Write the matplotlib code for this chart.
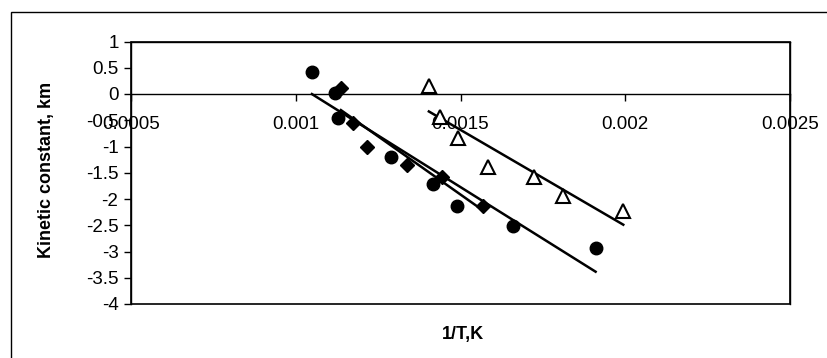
import numpy as np
import matplotlib
matplotlib.use("Agg")
import matplotlib.pyplot as plt
from matplotlib.patches import Rectangle

plt.rcParams['font.family'] = ['Liberation Sans', 'DejaVu Sans']

# series
circle_x = [0.001049, 0.001118, 0.001128, 0.001289, 0.001416, 0.001489, 0.00166, 0.00191]
circle_y = [0.42, 0.02, -0.45, -1.20, -1.71, -2.13, -2.51, -2.93]

diamond_x = [0.001137, 0.001173, 0.001216, 0.001337, 0.001443, 0.001568]
diamond_y = [0.12, -0.55, -1.01, -1.35, -1.58, -2.13]

triangle_x = [0.001404, 0.001438, 0.001492, 0.001584, 0.001724, 0.001812, 0.001994]
triangle_y = [0.15, -0.44, -0.83, -1.39, -1.58, -1.94, -2.22]

x_ticks = [0.0005, 0.001, 0.0015, 0.002, 0.0025]
x_labels = ['0.0005', '0.001', '0.0015', '0.002', '0.0025']
y_ticks = [-4, -3.5, -3, -2.5, -2, -1.5, -1, -0.5, 0, 0.5, 1]
y_labels = ['-4', '-3.5', '-3', '-2.5', '-2', '-1.5', '-1', '-0.5', '0', '0.5', '1']

fig = plt.figure(figsize=(8.28, 3.58), dpi=100)
# chart area border (left/top visible in the scan)
fig.patches.append(Rectangle((11 / 828, -0.1), 1.2, 1 - 12 / 358 + 0.1,
                             transform=fig.transFigure, fill=False,
                             edgecolor='black', linewidth=1.0))

ax = fig.add_axes([131 / 828, 1 - 304 / 358, (790 - 131) / 828, (304 - 41.5) / 358])

def trend(xs, ys):
    # excel style linear trendline over the series range
    k, b = np.polyfit(xs, ys, 1)
    xx = np.array([min(xs), max(xs)])
    return xx, k * xx + b

for xs, ys in [(circle_x, circle_y), (diamond_x, diamond_y), (triangle_x, triangle_y)]:
    tx, ty = trend(xs, ys)
    ax.plot(tx, ty, color='black', lw=1.8, zorder=2)

ax.plot(circle_x, circle_y, 'o', color='black', ms=9, zorder=3)
ax.plot(diamond_x, diamond_y, 'D', color='black', ms=7.5, zorder=3)
ax.plot(triangle_x, triangle_y, '^', mfc='white', mec='black', mew=1.5, ms=10, zorder=3)

ax.set_xlim(0.0005, 0.0025)
ax.set_ylim(-4, 1)
ax.set_xticks(x_ticks)
ax.set_xticklabels(x_labels)
ax.set_yticks(y_ticks)
ax.set_yticklabels(y_labels)

# x axis crosses at y = 0, full box around the plot area
ax.spines['bottom'].set_position(('data', 0))
for s in ax.spines.values():
    s.set_linewidth(1.0)
ax.add_patch(Rectangle((0, 0), 1, 1, transform=ax.transAxes, fill=False,
                       edgecolor='black', linewidth=1.2, clip_on=False))

ax.tick_params(axis='both', direction='out', length=5, width=1, labelsize=13.5)
ax.tick_params(axis='x', pad=11)
ax.tick_params(axis='y', pad=4)

fig.text(47 / 828, 1 - 170 / 358, 'Kinetic constant, km', rotation=90,
         ha='center', va='center', fontsize=13, fontweight='bold')
fig.text(463 / 828, 1 - 335 / 358, '1/T,K', ha='center', va='center',
         fontsize=13, fontweight='bold')

fig.savefig('out.png', dpi=100)
